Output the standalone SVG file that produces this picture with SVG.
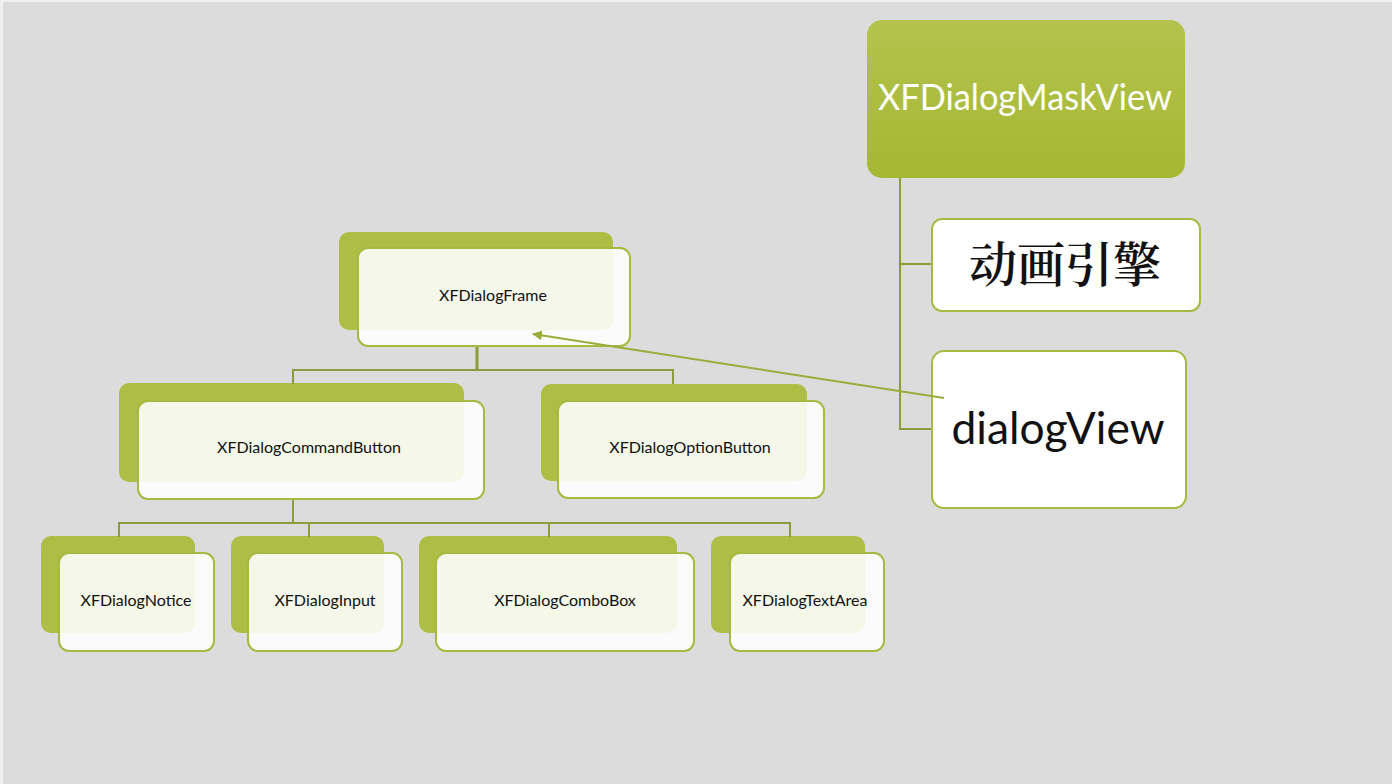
<svg xmlns="http://www.w3.org/2000/svg" width="1392" height="784" viewBox="0 0 1392 784">
<defs>
<linearGradient id="mg" x1="0" y1="0" x2="0" y2="1">
<stop offset="0" stop-color="#b3c34d"/>
<stop offset="1" stop-color="#a6b733"/>
</linearGradient>
<marker id="ah" viewBox="0 0 10 10" refX="9" refY="5" markerWidth="5" markerHeight="5" orient="auto" markerUnits="strokeWidth">
<path d="M0,0 L10,5 L0,10 z" fill="#9aad3b"/>
</marker>
</defs>
<style>
.back{fill:#adbd45;}
.front{fill:#ffffff;fill-opacity:0.88;stroke:#a7b940;stroke-width:2;}
.lbl{font-family:Lato,"Open Sans","Liberation Sans",sans-serif;font-size:16px;fill:#111;text-anchor:middle;}
.conn{fill:none;stroke:#8d9c3a;stroke-width:2;}
.box{fill:#ffffff;stroke:#a7b940;stroke-width:2;}
</style>
<rect x="0" y="0" width="1392" height="784" fill="#f0f0f0"/>
<rect x="3" y="2" width="1389" height="782" fill="#dcdcdc"/>

<g id="node-maskview">
<rect x="867" y="20" width="318" height="158" rx="15" fill="url(#mg)"/>
<text x="1025" y="110" font-family="Lato,'Open Sans','Liberation Sans',sans-serif" font-size="36" fill="#ffffff" text-anchor="middle" textLength="294" lengthAdjust="spacingAndGlyphs">XFDialogMaskView</text>
</g>

<g id="node-engine">
<rect class="box" x="932" y="219" width="268" height="92" rx="10"/>
<text x="1065" y="282" font-family="'Noto Serif CJK SC','Noto Sans CJK SC',serif" font-weight="600" font-size="48" fill="#111" text-anchor="middle">动画引擎</text>
</g>

<g id="node-dialogview">
<rect class="box" x="932" y="351" width="254" height="157" rx="12"/>
<text x="1058" y="444" font-family="Lato,'Open Sans','Liberation Sans',sans-serif" font-size="44" fill="#111" text-anchor="middle" textLength="213" lengthAdjust="spacingAndGlyphs">dialogView</text>
</g>

<g id="node-frame">
<rect class="back" x="339" y="232" width="274" height="98" rx="10"/>
<rect class="front" x="358" y="248" width="272" height="98" rx="10"/>
<text class="lbl" x="493" y="301">XFDialogFrame</text>
</g>

<g id="node-command">
<rect class="back" x="119" y="383" width="345" height="99" rx="10"/>
<rect class="front" x="138" y="401" width="346" height="98" rx="10"/>
<text class="lbl" x="309" y="453">XFDialogCommandButton</text>
</g>

<g id="node-option">
<rect class="back" x="541" y="384" width="266" height="97" rx="10"/>
<rect class="front" x="558" y="401" width="266" height="97" rx="10"/>
<text class="lbl" x="690" y="453">XFDialogOptionButton</text>
</g>

<g id="node-notice">
<rect class="back" x="41" y="536" width="154" height="97" rx="10"/>
<rect class="front" x="59" y="553" width="155" height="98" rx="10"/>
<text class="lbl" x="136" y="606">XFDialogNotice</text>
</g>

<g id="node-input">
<rect class="back" x="231" y="536" width="153" height="97" rx="10"/>
<rect class="front" x="248" y="553" width="154" height="98" rx="10"/>
<text class="lbl" x="325" y="606">XFDialogInput</text>
</g>

<g id="node-combobox">
<rect class="back" x="419" y="536" width="258" height="97" rx="10"/>
<rect class="front" x="436" y="553" width="258" height="98" rx="10"/>
<text class="lbl" x="565" y="606">XFDialogComboBox</text>
</g>

<g id="node-textarea">
<rect class="back" x="711" y="536" width="154" height="97" rx="10"/>
<rect class="front" x="730" y="553" width="154" height="98" rx="10"/>
<text class="lbl" x="805" y="606">XFDialogTextArea</text>
</g>

<g id="connectors">
<path class="conn" d="M293,384 V370 H673 V384"/>
<path class="conn" d="M477,347 V370" style="stroke-width:3"/>
<path class="conn" d="M293,500 V523 M119,537 V523 H790 V537 M309,523 V537 M549,523 V537"/>
<path class="conn" d="M900,178 V429 H931 M900,264 H931"/>
<line x1="944" y1="398" x2="533" y2="334" stroke="#9aad3b" stroke-width="2" marker-end="url(#ah)"/>
</g>
</svg>
